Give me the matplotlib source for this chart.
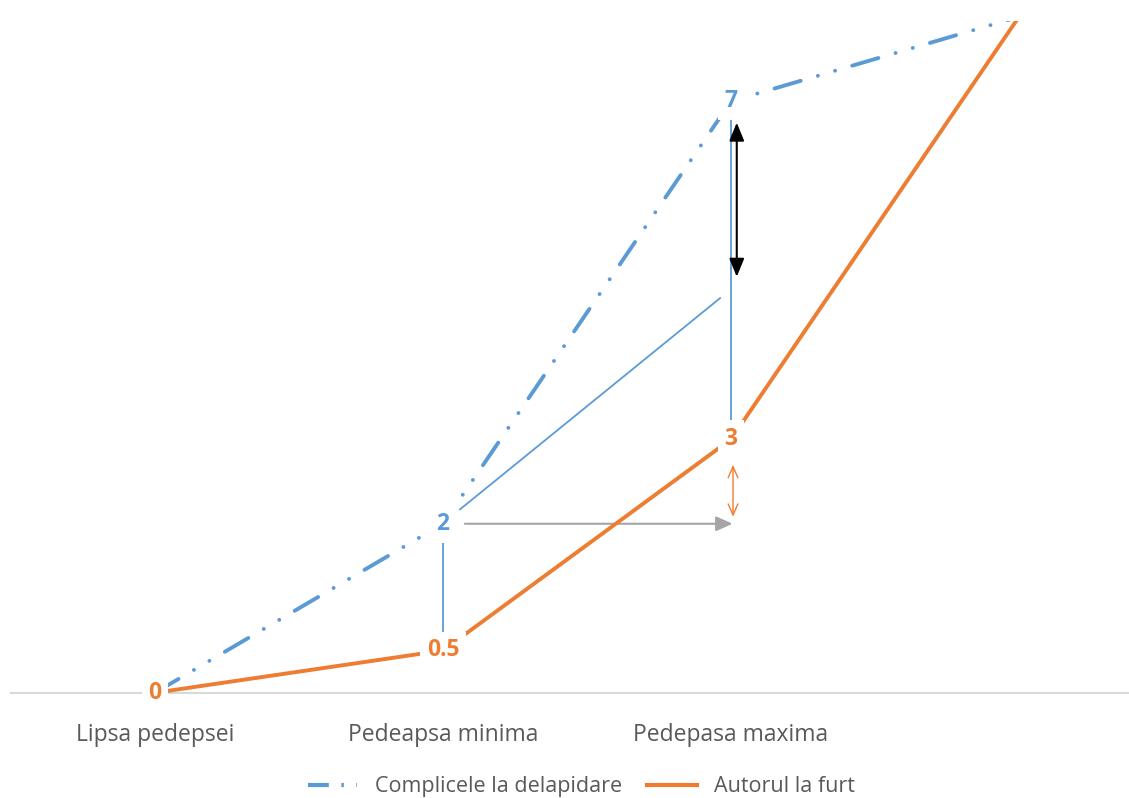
import matplotlib
matplotlib.use('Agg')
import matplotlib.pyplot as plt
from matplotlib.lines import Line2D

# categories and series
categories = ['Lipsa pedepsei', 'Pedeapsa minima', 'Pedepasa maxima', '']
complice = [0, 2, 7, 8]
autor = [0, 0.5, 3, 8]
complice_labels = ['', '2', '7', '']
autor_labels = ['0', '0.5', '3', '']

BLUE = '#5b9bd5'
ORANGE = '#ed7d31'
GREY_TXT = '#595959'
DASH_DOT_DOT = (7, 4.6, 0.01, 4.6, 0.01, 4.6)

plt.rcParams['font.family'] = ['Open Sans', 'DejaVu Sans']

fig = plt.figure(figsize=(11.29, 7.98), dpi=100)
# plot area is wider than the picture on the right side
ax = fig.add_axes([11 / 1129, 0.1266, 1152 / 1129, 0.8471])
x = list(range(len(categories)))

ax.plot(x, complice, color=BLUE, lw=2.8, dashes=DASH_DOT_DOT,
        dash_capstyle='round', zorder=3)
ax.plot(x, autor, color=ORANGE, lw=2.8, zorder=3)

# helper lines between the two series
ax.plot([1, 1], [autor[1], complice[1]], color=BLUE, lw=1.3, zorder=2)
ax.plot([2, 2], [autor[2], complice[2]], color=BLUE, lw=1.3, zorder=2)
ax.plot([1.059, 1.962], [2.17, 4.67], color=BLUE, lw=1.3, zorder=2)

ax.annotate('', xy=(2.015, 2.0), xytext=(1.066, 2.0),
            arrowprops=dict(arrowstyle='-|>,head_length=1.0,head_width=0.45',
                            color='#a5a5a5', lw=1.5), zorder=2)
ax.annotate('', xy=(2.02, 6.78), xytext=(2.02, 4.89),
            arrowprops=dict(arrowstyle='<|-|>,head_length=1.1,head_width=0.45',
                            color='black', lw=1.5), zorder=4)
ax.annotate('', xy=(2.007, 2.73), xytext=(2.007, 2.05),
            arrowprops=dict(arrowstyle='<->,head_length=0.8,head_width=0.35',
                            color=ORANGE, lw=1.0), zorder=2)

# data labels sit on the points with a white box that cuts the lines
for xi, yi, t in zip(x, complice, complice_labels):
    if t:
        ax.text(xi, yi, t, color=BLUE, fontsize=16.5, fontweight='bold',
                ha='center', va='center', zorder=5,
                bbox=dict(facecolor='white', edgecolor='none', pad=5))
for xi, yi, t in zip(x, autor, autor_labels):
    if t:
        ax.text(xi, yi, t, color=ORANGE, fontsize=16.5, fontweight='bold',
                ha='center', va='center', zorder=5, clip_on=False,
                bbox=dict(facecolor='white', edgecolor='none', pad=5))

ax.set_xlim(-0.5, 3.5)
ax.set_ylim(-0.05, 7.95)
ax.set_xticks(x)
ax.set_xticklabels(categories)
ax.tick_params(axis='x', length=0, pad=22, labelsize=16.5, labelcolor=GREY_TXT)
ax.set_yticks([])
for s in ['top', 'right', 'left']:
    ax.spines[s].set_visible(False)
ax.spines['bottom'].set_position(('data', 0))
ax.spines['bottom'].set_color('#d9d9d9')
ax.spines['bottom'].set_linewidth(1.5)
ax.spines['bottom'].set_zorder(1)

handles = [Line2D([], [], color=BLUE, lw=3, dashes=(5, 3, 0.6, 3, 0.6, 3)),
           Line2D([], [], color=ORANGE, lw=3)]
fig.legend(handles, ['Complicele la delapidare', 'Autorul la furt'],
           loc='center', bbox_to_anchor=(0.515, 0.014), ncol=2, frameon=False,
           fontsize=15.5, labelcolor=GREY_TXT, handlelength=2.3,
           columnspacing=1.2, handletextpad=0.8)

fig.savefig('out.png', dpi=100)
